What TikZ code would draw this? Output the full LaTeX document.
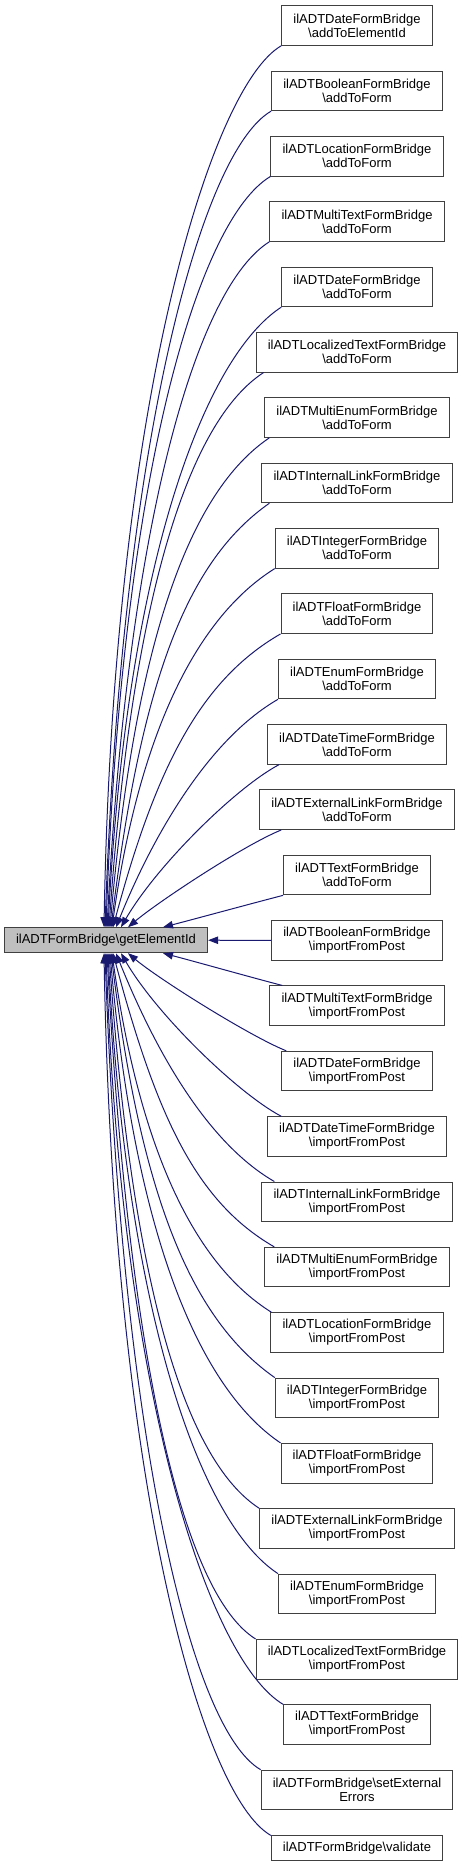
\documentclass[tikz,border=0pt]{standalone}
\usepackage{fontspec}
\setmainfont{Liberation Sans}
\usetikzlibrary{arrows.meta}
\definecolor{edgeblue}{HTML}{191970}
\definecolor{boxline}{HTML}{404040}
\definecolor{mainfill}{HTML}{BFBFBF}
\begin{document}
\begin{tikzpicture}[x=1bp,y=-1bp,
  box/.style={draw=boxline, line width=1bp, fill=white, align=center, inner xsep=11.7bp, inner ysep=0pt, minimum height=39.6bp, font=\fontsize{13bp}{14bp}\selectfont},
  onebox/.style={box, minimum height=25bp},
  mainbox/.style={onebox, fill=mainfill},
  edge/.style={draw=edgeblue, line width=1bp, -{Triangle[length=10bp,width=7.5bp]}}]
\useasboundingbox (0,0) rectangle (464,1867);

\node[mainbox] (m) at (106,940.2) {ilADTFormBridge\textbackslash getElementId};

\node[box] (n1) at (357,25.5) {ilADTDateFormBridge\\\textbackslash addToElementId};
\node[box] (n2) at (357,90.85) {ilADTBooleanFormBridge\\\textbackslash addToForm};
\node[box] (n3) at (357,156.2) {ilADTLocationFormBridge\\\textbackslash addToForm};
\node[box] (n4) at (357,221.55) {ilADTMultiTextFormBridge\\\textbackslash addToForm};
\node[box] (n5) at (357,286.9) {ilADTDateFormBridge\\\textbackslash addToForm};
\node[box] (n6) at (357,352.25) {ilADTLocalizedTextFormBridge\\\textbackslash addToForm};
\node[box] (n7) at (357,417.6) {ilADTMultiEnumFormBridge\\\textbackslash addToForm};
\node[box] (n8) at (357,482.95) {ilADTInternalLinkFormBridge\\\textbackslash addToForm};
\node[box] (n9) at (357,548.3) {ilADTIntegerFormBridge\\\textbackslash addToForm};
\node[box] (n10) at (357,613.65) {ilADTFloatFormBridge\\\textbackslash addToForm};
\node[box] (n11) at (357,679.0) {ilADTEnumFormBridge\\\textbackslash addToForm};
\node[box] (n12) at (357,744.35) {ilADTDateTimeFormBridge\\\textbackslash addToForm};
\node[box] (n13) at (357,809.7) {ilADTExternalLinkFormBridge\\\textbackslash addToForm};
\node[box] (n14) at (357,875.05) {ilADTTextFormBridge\\\textbackslash addToForm};
\node[box] (n15) at (357,940.4) {ilADTBooleanFormBridge\\\textbackslash importFromPost};
\node[box] (n16) at (357,1005.75) {ilADTMultiTextFormBridge\\\textbackslash importFromPost};
\node[box] (n17) at (357,1071.1) {ilADTDateFormBridge\\\textbackslash importFromPost};
\node[box] (n18) at (357,1136.45) {ilADTDateTimeFormBridge\\\textbackslash importFromPost};
\node[box] (n19) at (357,1201.8) {ilADTInternalLinkFormBridge\\\textbackslash importFromPost};
\node[box] (n20) at (357,1267.15) {ilADTMultiEnumFormBridge\\\textbackslash importFromPost};
\node[box] (n21) at (357,1332.5) {ilADTLocationFormBridge\\\textbackslash importFromPost};
\node[box] (n22) at (357,1397.85) {ilADTIntegerFormBridge\\\textbackslash importFromPost};
\node[box] (n23) at (357,1463.2) {ilADTFloatFormBridge\\\textbackslash importFromPost};
\node[box] (n24) at (357,1528.55) {ilADTExternalLinkFormBridge\\\textbackslash importFromPost};
\node[box] (n25) at (357,1593.9) {ilADTEnumFormBridge\\\textbackslash importFromPost};
\node[box] (n26) at (357,1659.25) {ilADTLocalizedTextFormBridge\\\textbackslash importFromPost};
\node[box] (n27) at (357,1724.6) {ilADTTextFormBridge\\\textbackslash importFromPost};
\node[box] (n28) at (357,1789.95) {ilADTFormBridge\textbackslash setExternal\\Errors};
\node[onebox] (n29) at (357,1848.35) {ilADTFormBridge\textbackslash validate};

% callers above the target
\foreach \k/\sdx/\tdx/\a/\la/\b/\lb in {
  1/0/-2/30/80/1/530, 2/0/-1/30/80/2/490, 3/0/0/31/85/2/450,
  4/0/1/32/85/3/410, 5/0/2/33/90/3/370, 6/8/3/33/90/4/330,
  7/5/4/34/95/5/290, 8/8/5/35/100/7/250, 9/0/6/32/90/8/200,
  10/0/7/30/90/15/170, 11/0/10/30/80/22/100, 12/12/15/28/50/30/70,
  13/22/22/22/40/50/40, 14/0/57/14.5/30/75.5/30}
  \draw[edge] ([xshift=\sdx bp]n\k.south west)
     .. controls +({-\la*cos(\a)},{\la*sin(\a)}) and +({\lb*sin(\b)},{-\lb*cos(\b)})
     .. ([xshift=\tdx bp]m.north);

\draw[edge] (n15.west) -- (m.east);

% callers below the target
\foreach \k/\sdx/\tdx/\a/\la/\b/\lb in {
  16/13/57/14.5/30/75.5/30, 17/5/22/22/40/50/40, 18/14/15/28/50/30/70,
  19/13/10/30/80/22/100, 20/10/7/30/90/15/170, 21/1/6/32/90/8/200,
  22/0/5/35/100/7/250, 23/0/4/34/95/5/290, 24/0/3/33/90/4/330,
  25/0/2/33/90/3/370, 26/0/1/32/85/3/410, 27/0/0/31/85/2/450,
  28/0/-1/30/80/2/490, 29/0/-2/30/80/1/530}
  \draw[edge] ([xshift=\sdx bp]n\k.north west)
     .. controls +({-\la*cos(\a)},{-\la*sin(\a)}) and +({\lb*sin(\b)},{\lb*cos(\b)})
     .. ([xshift=\tdx bp]m.south);
\end{tikzpicture}
\end{document}
